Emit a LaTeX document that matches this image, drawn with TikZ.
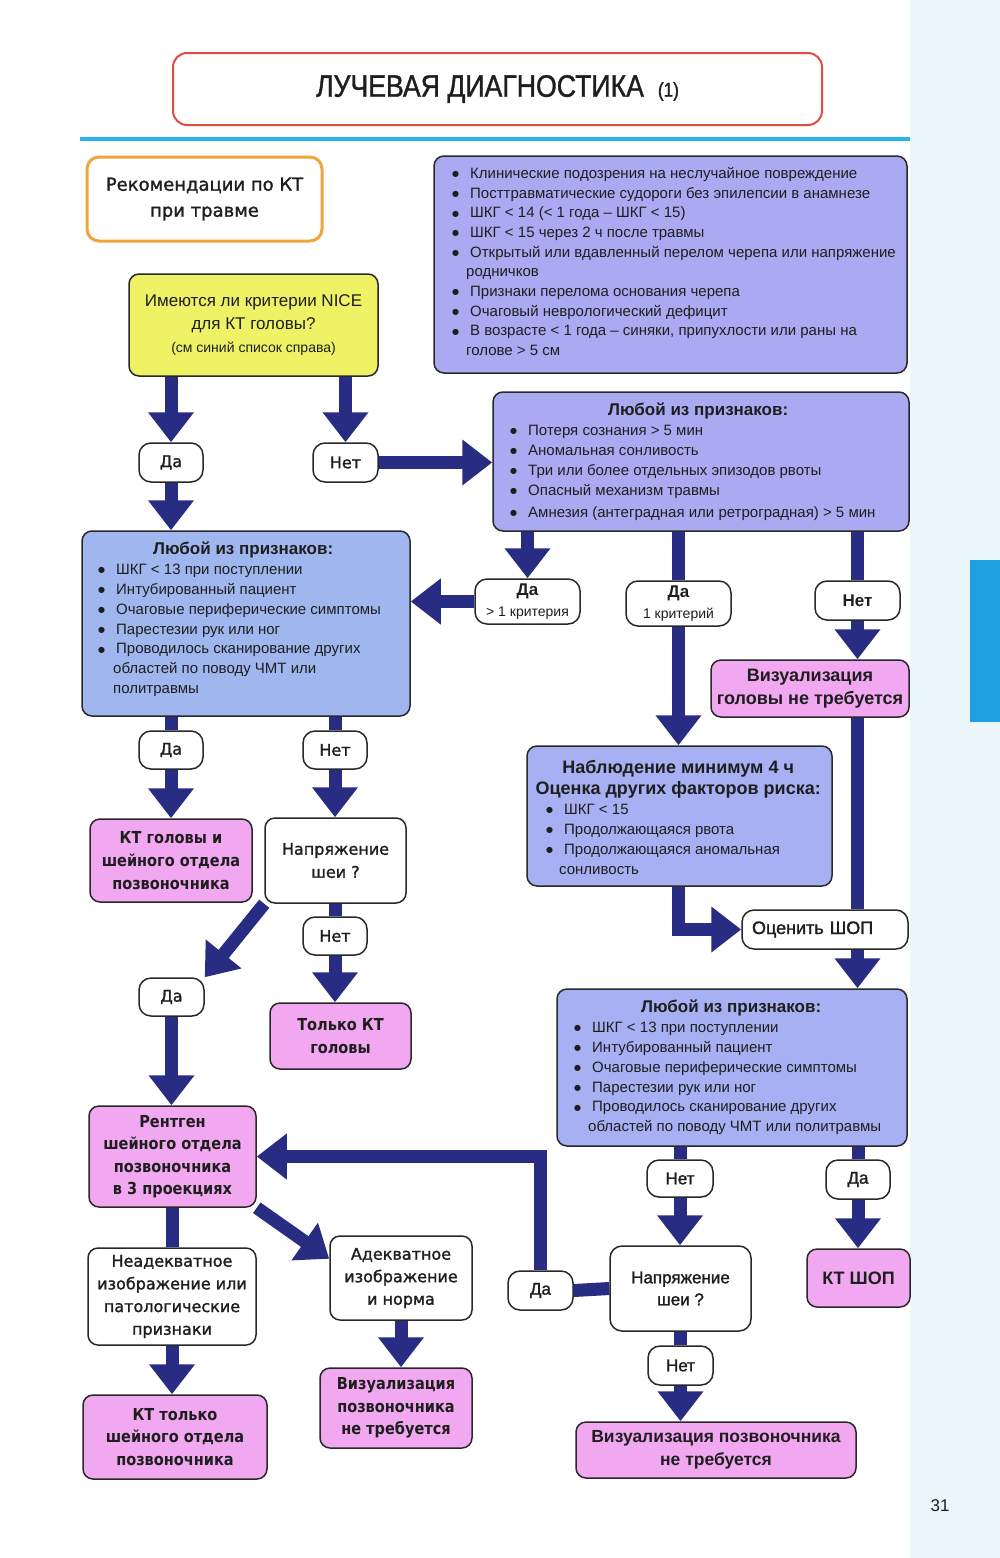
\documentclass[tikz,border=0pt]{standalone}
\usepackage{fontspec}
\setmainfont{Liberation Sans}
\newfontfamily\dv{DejaVu Sans}
\newfontfamily\dvm{DejaVu Sans}[FakeBold=1.5]
\newfontfamily\dvc{DejaVu Sans}[FakeStretch=0.88]
\newfontfamily\lsm{Liberation Sans}[FakeBold=1.5]
\newfontfamily\tf{Liberation Sans}[FakeStretch=0.86,FakeBold=1.2]
\usetikzlibrary{arrows.meta}
\newcommand\fs[2]{\fontsize{#1}{#2}\selectfont}
\newcommand\itm{\makebox[18pt][l]{\raisebox{1.8pt}{\dv\fontsize{8}{8}\selectfont ●}}}
\definecolor{navyc}{RGB}{40,44,130}
\definecolor{lavc}{RGB}{170,170,242}
\definecolor{bltc}{RGB}{160,182,238}
\definecolor{blbc}{RGB}{166,176,242}
\definecolor{pinkc}{RGB}{242,168,240}
\definecolor{yelc}{RGB}{238,242,100}
\definecolor{bordc}{RGB}{40,40,40}
\definecolor{orangec}{RGB}{240,165,60}
\definecolor{redc}{RGB}{225,75,65}
\definecolor{cyanc}{RGB}{40,180,230}
\definecolor{stripc}{RGB}{234,246,250}
\definecolor{tabc}{RGB}{30,160,225}
\definecolor{txtc}{RGB}{30,30,30}
\tikzset{
  sz/.style 2 args={minimum width=#1pt,minimum height=#2pt},
  box/.style={draw=bordc,line width=1.5pt,rounded corners=10pt,inner sep=0pt,text=txtc,align=center},
  pill/.style={box,fill=white,rounded corners=12pt},
  pinkbox/.style={box,fill=pinkc},
  lst/.style={inner sep=0pt,align=left,text=txtc,anchor=west},
  ln/.style={line width=13pt,draw=navyc,line join=miter},
  arr/.style={ln,-{Triangle[width=44pt,length=30pt]}},
}
\begin{document}
\begin{tikzpicture}[x=1pt,y=-1pt]
\useasboundingbox (0,0) rectangle (1000,1558);
\fill[stripc] (910,0) rectangle (1000,1558);
\fill[tabc] (970,560) rectangle (1000,722);
\draw[cyanc,line width=4pt] (80,139) -- (910,139);

% title and top
\node[box,draw=redc,line width=2pt,rounded corners=14pt,sz={649}{72},font=\tf\fs{31}{31}] (title) at (497.5,89) {ЛУЧЕВАЯ ДИАГНОСТИКА\hspace{14pt}{\fs{20}{20}(1)}};
\node[box,draw=orangec,line width=3pt,rounded corners=12pt,sz={235}{84},font=\dvm\fs{18}{26}] (rec) at (204.5,199) {Рекомендации по КТ\\при травме};
\node[box,fill=yelc,sz={249}{102},font=\fs{17}{23}] (nice) at (253.5,325) {Имеются ли критерии NICE\\для КТ головы?\\{\fs{14}{20}(см синий список справа)}};

\node[box,fill=lavc,sz={473}{217}] (crit) at (670.5,264.5) {};
\node[lst,font=\fs{15}{19.67}] (critT) at (452,261.5) {\itm Клинические подозрения на неслучайное повреждение\\
\itm Посттравматические судороги без эпилепсии в анамнезе\\
\itm ШКГ < 14 (< 1 года – ШКГ < 15)\\
\itm ШКГ < 15 через 2 ч после травмы\\
\itm Открытый или вдавленный перелом черепа или напряжение\\
\hspace*{14pt}родничков\\
\itm Признаки перелома основания черепа\\
\itm Очаговый неврологический дефицит\\
\itm В возрасте < 1 года – синяки, припухлости или раны на\\
\hspace*{14pt}голове > 5 см};

% pills under NICE
\node[pill,sz={64}{39},font=\dvm\fs{16}{20}] (da1) at (171,462.5) {Да};
\node[pill,sz={65}{39},font=\dvm\fs{16}{20}] (net1) at (345.5,462.5) {Нет};

% box2
\node[box,fill=lavc,sz={416}{139}] (box2) at (701,461.5) {};
\node[lst,font=\fs{15}{20}] (box2T) at (510,461.5) {\makebox[376pt][c]{\fs{17}{20}\bfseries Любой из признаков:}\\
\itm Потеря сознания > 5 мин\\
\itm Аномальная сонливость\\
\itm Три или более отдельных эпизодов рвоты\\
\itm Опасный механизм травмы\\[2pt]
\itm Амнезия (антеградная или ретроградная) > 5 мин};

% box1
\node[box,fill=bltc,sz={328}{185}] (box1) at (246,623.5) {};
\node[lst,font=\fs{15}{19.8}] (box1T) at (98,619.5) {\makebox[290pt][c]{\fs{17}{20}\bfseries Любой из признаков:}\\
\itm ШКГ < 13 при поступлении\\
\itm Интубированный пациент\\
\itm Очаговые периферические симптомы\\
\itm Парестезии рук или ног\\
\itm Проводилось сканирование других\\
\hspace*{15pt}областей по поводу ЧМТ или\\
\hspace*{15pt}политравмы};

% pills under box2
\node[pill,sz={105}{45},font=\fs{14}{21}] (da2) at (527.5,601.5) {{\fs{17}{21}\bfseries Да}\\> 1 критерия};
\node[pill,sz={105}{45},font=\fs{14}{21}] (da3) at (678.5,603.5) {{\fs{17}{21}\bfseries Да}\\1 критерий};
\node[pill,sz={85}{39},font=\fs{17}{20}\bfseries] (net2) at (857.5,600.5) {Нет};
\node[pinkbox,sz={198}{57},font=\fs{18}{23}\bfseries] (pink1) at (810,688.5) {Визуализация\\головы не требуется};

% observation
\node[box,fill=blbc,sz={305}{140}] (obs) at (679.5,816) {};
\node[lst,font=\fs{15}{20}] (obsT) at (546,817) {\makebox[264pt][c]{\fs{18}{22}\bfseries Наблюдение минимум 4 ч}\\[1pt]
\makebox[264pt][c]{\fs{18}{22}\bfseries Оценка других факторов риска:}\\
\itm ШКГ < 15\\
\itm Продолжающаяся рвота\\
\itm Продолжающаяся аномальная\\
\hspace*{13pt}сонливость};
\node[pill,sz={166}{39},font=\lsm\fs{18}{20},text width=146pt,align=left] (shop) at (825,929.5) {Оценить ШОП};

% box3
\node[box,fill=blbc,sz={350}{157}] (box3) at (732,1067.5) {};
\node[lst,font=\fs{15}{19.8}] (box3T) at (574,1067.5) {\makebox[314pt][c]{\fs{17}{20}\bfseries Любой из признаков:}\\
\itm ШКГ < 13 при поступлении\\
\itm Интубированный пациент\\
\itm Очаговые периферические симптомы\\
\itm Парестезии рук или ног\\
\itm Проводилось сканирование других\\
\hspace*{14pt}областей по поводу ЧМТ или политравмы};

\node[pill,sz={66}{37},font=\lsm\fs{17}{20}] (net3) at (680,1178.5) {Нет};
\node[pill,sz={64}{39},font=\lsm\fs{17}{20}] (da4) at (858,1179.5) {Да};
\node[pill,sz={141}{85},font=\lsm\fs{17}{22}] (neck2) at (680.5,1288.5) {Напряжение\\шеи ?};
\node[pinkbox,sz={103}{58},font=\fs{18}{22}\bfseries] (ktshop) at (858.5,1278) {КТ ШОП};
\node[pill,sz={65}{39},font=\lsm\fs{17}{20}] (da5) at (540.5,1290.5) {Да};
\node[pill,sz={65}{39},font=\lsm\fs{17}{20}] (net4) at (680.5,1365.5) {Нет};
\node[pinkbox,sz={280}{56},font=\fs{17.5}{23}\bfseries] (spine2) at (716,1450) {Визуализация позвоночника\\не требуется};

% left lower part
\node[pill,sz={64}{38},font=\dvm\fs{16}{20}] (da6) at (171,750) {Да};
\node[pill,sz={64}{38},font=\dvm\fs{16}{20}] (net5) at (335,750) {Нет};
\node[pinkbox,sz={162}{83},font=\dvc\bfseries\fs{16.5}{23}] (kthn) at (171,860.5) {КТ головы и\\шейного отдела\\позвоночника};
\node[pill,rounded corners=10pt,sz={141}{85},font=\dvm\fs{16}{23}] (neck1) at (335.5,860.5) {Напряжение\\шеи ?};
\node[pill,sz={64}{38},font=\dvm\fs{16}{20}] (net6) at (335,936) {Нет};
\node[pill,sz={65}{38},font=\dvm\fs{16}{20}] (da7) at (171.5,997) {Да};
\node[pinkbox,sz={141}{66},font=\dvc\bfseries\fs{16.5}{23}] (ktonly) at (340.5,1036) {Только КТ\\головы};
\node[pinkbox,sz={167}{101},font=\dvc\bfseries\fs{16.5}{22.5}] (xray) at (172.5,1156.5) {Рентген\\шейного отдела\\позвоночника\\в 3 проекциях};
\node[pill,rounded corners=10pt,sz={168}{97},font=\dvm\fs{16}{22.7}] (inadeq) at (172,1296.5) {Неадекватное\\изображение или\\патологические\\признаки};
\node[pill,rounded corners=10pt,sz={142}{84},font=\dvm\fs{16}{22.5}] (adeq) at (401,1278) {Адекватное\\изображение\\и норма};
\node[pinkbox,sz={184}{84},font=\dvc\bfseries\fs{16.5}{22.5}] (ktneck) at (175,1437) {КТ только\\шейного отдела\\позвоночника};
\node[pinkbox,sz={152}{80},font=\dvc\bfseries\fs{16.5}{22.5}] (spine1) at (396,1408) {Визуализация\\позвоночника\\не требуется};

\node[font=\fs{17}{20},text=txtc] (pg) at (940,1506) {31};

% connectors
\draw[arr] (da1.north |- nice.south) -- (da1.north);
\draw[arr] (net1.north |- nice.south) -- (net1.north);
\draw[arr] (da1.south) -- (da1.south |- box1.north);
\draw[arr] (net1.east) -- (net1.east -| box2.west);
\draw[arr] (da2.north |- box2.south) -- (da2.north);
\draw[arr] (da2.west) -- (da2.west -| box1.east);
\draw[ln] (da3.north |- box2.south) -- (da3.north);
\draw[arr] (da3.south) -- (da3.south |- obs.north);
\draw[ln] (net2.north |- box2.south) -- (net2.north);
\draw[arr] (net2.south) -- (net2.south |- pink1.north);
\draw[ln] (net2.south |- pink1.south) -- (net2.south |- shop.north);
\draw[arr] (da3.south |- obs.south) |- (shop.west);
\draw[arr] (net2.south |- shop.south) -- (net2.south |- box3.north);
\draw[ln] (net3.north |- box3.south) -- (net3.north);
\draw[arr] (net3.south) -- (net3.south |- neck2.north);
\draw[ln] (da4.north |- box3.south) -- (da4.north);
\draw[arr] (da4.south) -- (da4.south |- ktshop.north);
\draw[ln] (neck2.west) -- (da5.east);
\draw[arr] (da5.north) |- (xray.east);
\draw[ln] (neck2.south) -- (net4.north);
\draw[arr] (net4.south) -- (net4.south |- spine2.north);
\draw[ln] (da6.north |- box1.south) -- (da6.north);
\draw[arr] (da6.south) -- (da6.south |- kthn.north);
\draw[ln] (net5.north |- box1.south) -- (net5.north);
\draw[arr] (net5.south) -- (net5.south |- neck1.north);
\draw[arr] (neck1.south west) -- (da7.north east);
\draw[ln] (net6.north |- neck1.south) -- (net6.north);
\draw[arr] (net6.south) -- (net6.south |- ktonly.north);
\draw[arr] (da7.south) -- (da7.south |- xray.north);
\draw[ln] (xray.south) -- (xray.south |- inadeq.north);
\draw[arr] (xray.south east) -- (adeq.165);
\draw[arr] (inadeq.south) -- (inadeq.south |- ktneck.north);
\draw[arr] (adeq.south) -- (adeq.south |- spine1.north);
\end{tikzpicture}
\end{document}
